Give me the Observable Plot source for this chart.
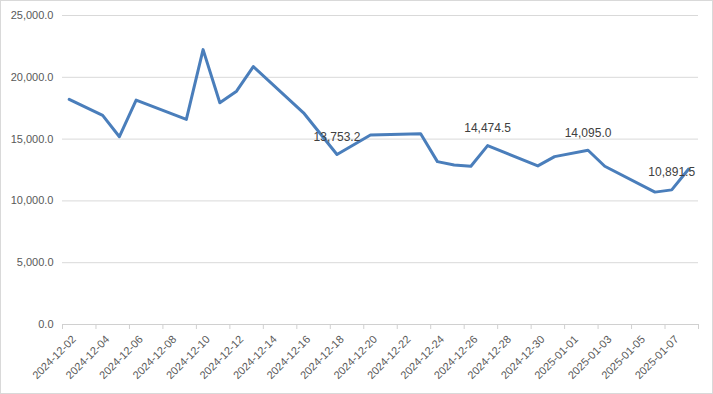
<!DOCTYPE html>
<html><head><meta charset="utf-8">
<script src="https://cdn.jsdelivr.net/npm/d3@7"></script>
<script src="https://cdn.jsdelivr.net/npm/@observablehq/plot@0.6"></script>
<style>
body{margin:0;background:#fff;}
svg{display:block;outline:1px solid #d9d9d9;outline-offset:-1px;}
</style>
</head><body><div id="chart"></div>
<script>
const dates = ["2024-12-02","2024-12-04","2024-12-05","2024-12-06","2024-12-09","2024-12-10","2024-12-11","2024-12-12","2024-12-13","2024-12-16","2024-12-18","2024-12-20","2024-12-23","2024-12-24","2024-12-25","2024-12-26","2024-12-27","2024-12-30","2024-12-31","2025-01-02","2025-01-03","2025-01-06","2025-01-07","2025-01-08"];
const values = [18210,16919,15194,18153,16597,22242,17935,18879,20871,17129,13753.2,15330,15435,13177,12911,12806,14474.5,12831,13581,14095.0,12806,10710,10891.5,12565];
const labeledDates = ["2024-12-18","2024-12-27","2025-01-02","2025-01-07"];
const tickLabels = ["2024-12-02","2024-12-04","2024-12-06","2024-12-08","2024-12-10","2024-12-12","2024-12-14","2024-12-16","2024-12-18","2024-12-20","2024-12-22","2024-12-24","2024-12-26","2024-12-28","2024-12-30","2025-01-01","2025-01-03","2025-01-05","2025-01-07"];
const yTicks = [0,5000,10000,15000,20000,25000];

const DAY = 864e5;
const parse = s => new Date(s + "T00:00:00Z");
const data = dates.map((d,i) => ({date: parse(d), value: values[i]}));
const labeled = data.filter(d => labeledDates.includes(d.date.toISOString().slice(0,10)));
const labelDates = tickLabels.map(parse);
const start = parse(tickLabels[0]).getTime() - 0.4*DAY;
const boundaryTicks = d3.range(tickLabels.length + 1).map(k => new Date(start + 2*k*DAY));
const fmt = d3.format(",.1f");

const chart = Plot.plot({
  width: 713, height: 394,
  marginLeft: 62, marginRight: 15, marginTop: 15, marginBottom: 70,
  style: {fontFamily: "'Liberation Sans', Arial, sans-serif", fontSize: "11px", color: "#595959", background: "#fff"},
  x: {type: "utc", domain: [new Date(start), new Date(start + 38*DAY)]},
  y: {domain: [0, 25000]},
  marks: [
    Plot.gridY(yTicks, {stroke: "#d9d9d9", strokeOpacity: 1}),
    Plot.axisY(yTicks, {tickSize: 0, tickPadding: 9, tickFormat: fmt, fill: "#595959", fontSize: 11, label: null}),
    Plot.ruleY([0], {stroke: "#d0d0d0"}),
    Plot.axisX(boundaryTicks, {tickSize: 5, stroke: "#d0d0d0", tickFormat: () => "", label: null}),
    Plot.axisX(labelDates, {tickSize: 0, tickPadding: 13, tickRotate: -45, tickFormat: d3.utcFormat("%Y-%m-%d"), fill: "#595959", fontSize: 11, dx: 5, label: null}),
    Plot.line(data, {x: "date", y: "value", stroke: "#4a7ebb", strokeWidth: 3, strokeLinejoin: "round", strokeLinecap: "round"}),
    Plot.text(labeled, {x: "date", y: "value", text: d => fmt(d.value), dy: -17.5, fill: "#404040", fontSize: 12})
  ]
});
document.getElementById("chart").append(chart);
</script>
</body></html>
